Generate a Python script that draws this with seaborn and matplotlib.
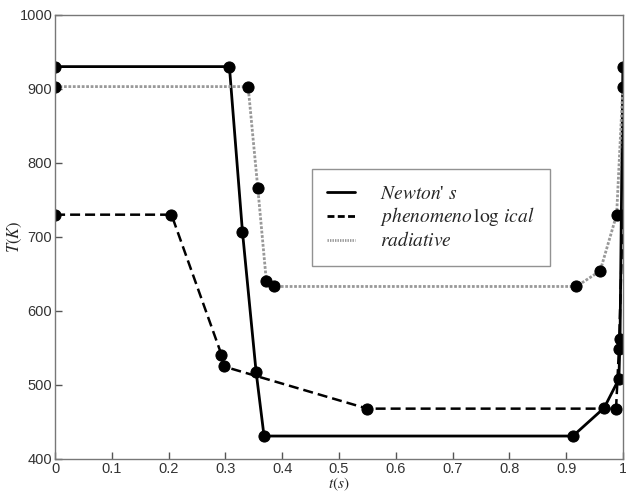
import seaborn as sns
import matplotlib.pyplot as plt
import pandas as pd
from matplotlib.lines import Line2D

# values
newton_t = [0, 0.307, 0.330, 0.354, 0.368, 0.912, 0.967, 0.993, 0.995, 1.0]
newton_T = [930, 930, 707, 518, 431, 431, 469, 508, 562, 930]

phen_t = [0, 0.205, 0.293, 0.297, 0.55, 0.988, 0.993, 1.0]
phen_T = [730, 730, 541, 525, 468, 468, 548, 730]

rad_t = [0, 0.34, 0.357, 0.372, 0.385, 0.918, 0.96, 0.989, 1.0]
rad_T = [903, 903, 766, 641, 633, 633, 654, 730, 903]

x_ticks = [0, 0.1, 0.2, 0.3, 0.4, 0.5, 0.6, 0.7, 0.8, 0.9, 1]
x_ticklabels = ['0', '0.1', '0.2', '0.3', '0.4', '0.5', '0.6', '0.7', '0.8', '0.9', '1']
y_ticks = [400, 500, 600, 700, 800, 900, 1000]


def generate_plot():
    sns.set_theme(style='white')
    plt.rcParams['font.family'] = ['Liberation Sans', 'DejaVu Sans']
    plt.rcParams['mathtext.fontset'] = 'stix'

    fig = plt.figure(figsize=(6.26, 4.93), dpi=100)
    ax = fig.add_axes([0.088, 0.069, 0.907, 0.901])

    series = [
        (newton_t, newton_T, dict(color='black', linestyle='-', linewidth=2.0)),
        (phen_t, phen_T, dict(color='black', linestyle=(0, (4, 2)), linewidth=1.8)),
        (rad_t, rad_T, dict(color='#999999', linestyle=(0, (1, 0.6)), linewidth=2.0)),
    ]
    for t, T, kw in series:
        df = pd.DataFrame({'t': t, 'T': T})
        sns.lineplot(data=df, x='t', y='T', sort=False, estimator=None, ax=ax,
                     marker='o', markersize=8, markerfacecolor='black',
                     markeredgecolor='black', **kw)

    ax.set_xlim(0, 1)
    ax.set_ylim(400, 1000)
    ax.set_xticks(x_ticks)
    ax.set_xticklabels(x_ticklabels)
    ax.set_yticks(y_ticks)
    ax.tick_params(direction='in', length=5, width=1, colors='#555555',
                   labelcolor='#333333', labelsize=10.5, bottom=True, left=True, pad=2)
    for s in ax.spines.values():
        s.set_color('#777777')
        s.set_linewidth(1)

    ax.set_xlabel(r'$t(s)$', fontsize=11)
    ax.set_ylabel(r'$T(K)$', fontsize=12)
    ax.xaxis.set_label_coords(0.5, -0.038)
    ax.yaxis.set_label_coords(-0.055, 0.5)

    handles = [
        Line2D([], [], color='black', linestyle='-', linewidth=2),
        Line2D([], [], color='black', linestyle=(0, (2.5, 1.2)), linewidth=2),
        Line2D([], [], color='#999999', linestyle=(0, (0.5, 0.4)), linewidth=2),
    ]
    labels = [r"$\mathit{Newton}$' $\mathit{s}$",
              r"$\mathit{phenomeno}\,\log\,\mathit{ical}$",
              r"$\mathit{radiative}$"]
    leg = ax.legend(handles, labels, loc='upper left', bbox_to_anchor=(0.452, 0.652),
                    borderaxespad=0, prop={'family': 'Liberation Serif', 'size': 14},
                    frameon=True, fancybox=False, handlelength=1.4,
                    borderpad=0.8, labelspacing=0.15, handletextpad=1.3)
    leg.get_frame().set_edgecolor('#777777')
    leg.get_frame().set_linewidth(1)

    fig.savefig('out.png', dpi=100)


def main():
    generate_plot()


if __name__ == '__main__':
    main()
